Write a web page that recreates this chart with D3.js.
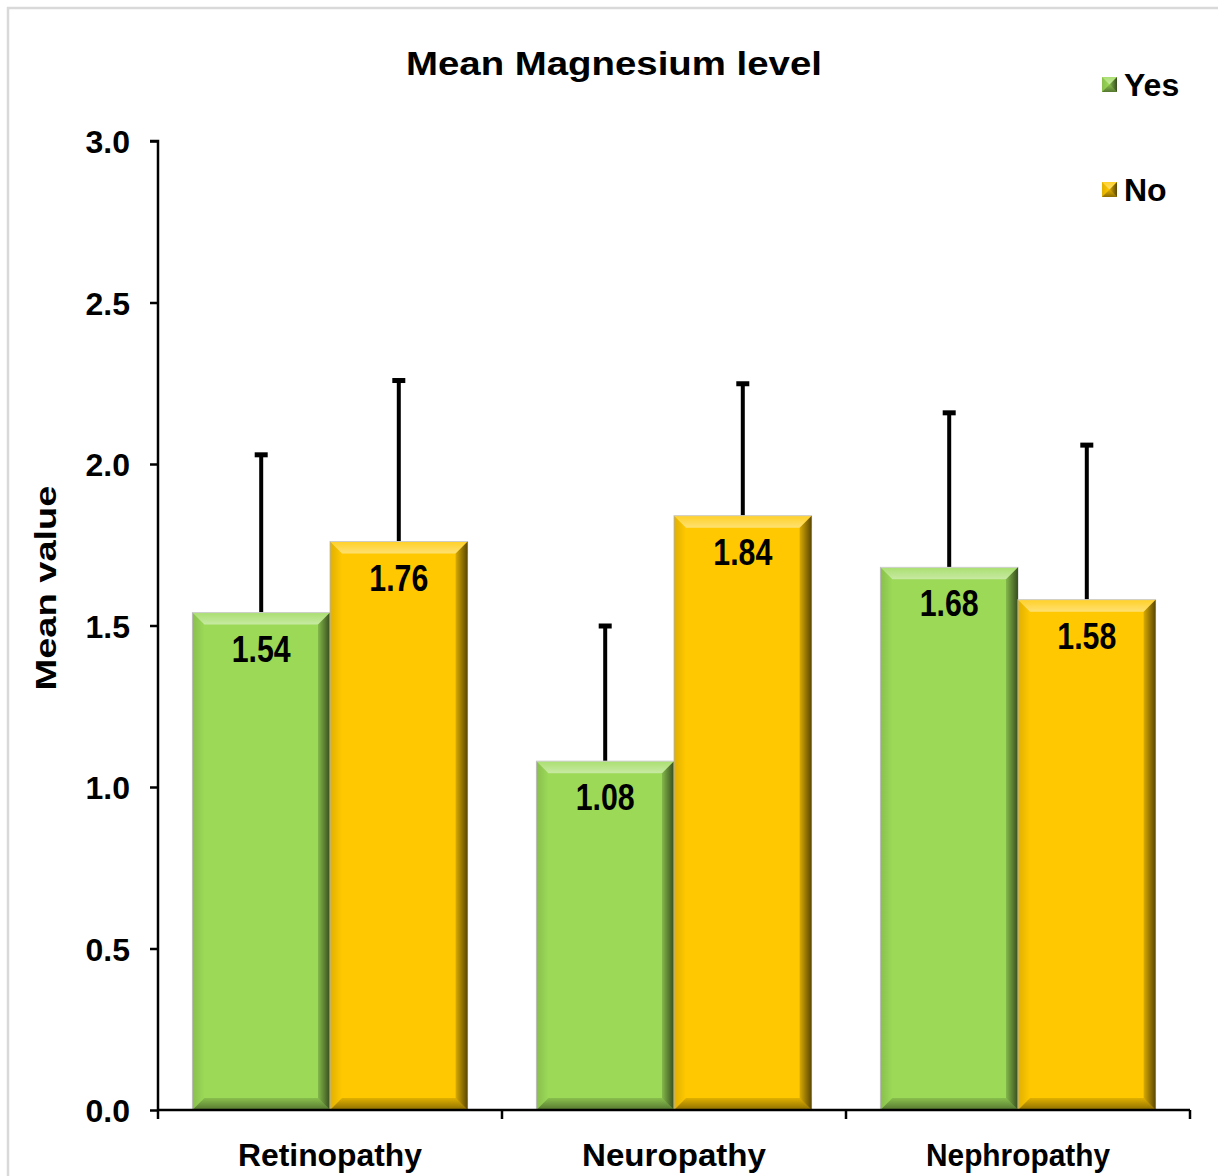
<!DOCTYPE html>
<html>
<head>
<meta charset="utf-8">
<script src="https://cdn.jsdelivr.net/npm/d3@7"></script>
<style>
  body { margin: 0; background: #fff; }
  text { font-family: "Liberation Sans", Arial, sans-serif; font-weight: bold; fill: #000; }
  .axis path, .axis line { stroke: #000; stroke-width: 2.5; }
  .valueLabel { font-family: "Liberation Sans Narrow", "Arial Narrow", "Liberation Sans", sans-serif; }
</style>
</head>
<body>
<div id="chart"></div>
<script>
// chart data
var categories = ["Retinopathy", "Neuropathy", "Nephropathy"];
var seriesNames = ["Yes", "No"];
var yesValues = [1.54, 1.08, 1.68];
var noValues = [1.76, 1.84, 1.58];
var yesSD = [0.49, 0.42, 0.48];
var noSD = [0.50, 0.41, 0.48];
var yTicks = [0, 0.5, 1.0, 1.5, 2.0, 2.5, 3.0];

var seriesColors = { Yes: "#9bd957", No: "#ffc800" };

// svg area
var svgWidth = 1218;
var svgHeight = 1176;
var plot = { left: 158, right: 1190, top: 141, bottom: 1110 };

var svg = d3.select("#chart").append("svg")
    .attr("width", svgWidth)
    .attr("height", svgHeight);

// gradients for the bevel edges
var defs = svg.append("defs");
function shadeGradient(id, x1, y1, x2, y2, color, o1, o2) {
    var g = defs.append("linearGradient").attr("id", id)
        .attr("x1", x1).attr("y1", y1).attr("x2", x2).attr("y2", y2);
    g.append("stop").attr("offset", "0%").attr("stop-color", color).attr("stop-opacity", o1);
    g.append("stop").attr("offset", "100%").attr("stop-color", color).attr("stop-opacity", o2);
}
shadeGradient("bevTop", 0, 0, 0, 1, "#fff", 0.15, 0.45);
shadeGradient("bevLeft", 0, 0, 1, 0, "#000", 0.12, 0.0);
shadeGradient("bevRight", 0, 0, 1, 0, "#000", 0.15, 0.65);
shadeGradient("bevBottom", 0, 0, 0, 1, "#000", 0.12, 0.45);

// outer frame
svg.append("rect")
    .attr("x", 8).attr("y", 8)
    .attr("width", 1230).attr("height", 1200)
    .attr("fill", "none")
    .attr("stroke", "#d9d9d9")
    .attr("stroke-width", 2.5);

// scales
var x0 = d3.scaleBand()
    .domain(categories)
    .range([plot.left, plot.right])
    .paddingInner(0.2)
    .paddingOuter(0.1);

var x1 = d3.scaleBand()
    .domain(seriesNames)
    .range([0, x0.bandwidth()]);

var yScale = d3.scaleLinear()
    .domain([0, 3])
    .range([plot.bottom, plot.top]);

// rows of data for the bars
var rows = [];
categories.forEach(function (cat, i) {
    rows.push({ cat: cat, series: "Yes", value: yesValues[i], sd: yesSD[i] });
    rows.push({ cat: cat, series: "No", value: noValues[i], sd: noSD[i] });
});

// bevel shapes for a rect
function bevelPolys(x, y, w, h, b) {
    b = Math.min(b, w / 2, h / 2);
    return {
        top: [[x, y], [x + w, y], [x + w - b, y + b], [x + b, y + b]],
        left: [[x, y], [x + b, y + b], [x + b, y + h - b], [x, y + h]],
        right: [[x + w, y], [x + w, y + h], [x + w - b, y + h - b], [x + w - b, y + b]],
        bottom: [[x, y + h], [x + b, y + h - b], [x + w - b, y + h - b], [x + w, y + h]]
    };
}
function pts(p) { return p.map(function (d) { return d.join(","); }).join(" "); }
function drawBevel(g, x, y, w, h, b) {
    var p = bevelPolys(x, y, w, h, b);
    g.append("polygon").attr("points", pts(p.top)).attr("fill", "url(#bevTop)");
    g.append("polygon").attr("points", pts(p.left)).attr("fill", "url(#bevLeft)");
    g.append("polygon").attr("points", pts(p.right)).attr("fill", "url(#bevRight)");
    g.append("polygon").attr("points", pts(p.bottom)).attr("fill", "url(#bevBottom)");
}

// error bars (drawn first, bars sit on top)
var errGroup = svg.append("g");
rows.forEach(function (d) {
    var cx = x0(d.cat) + x1(d.series) + x1.bandwidth() / 2;
    errGroup.append("line")
        .attr("x1", cx).attr("x2", cx)
        .attr("y1", yScale(d.value))
        .attr("y2", yScale(d.value + d.sd))
        .attr("stroke", "#000")
        .attr("stroke-width", 4);
    errGroup.append("rect")
        .attr("x", cx - 6.5)
        .attr("y", yScale(d.value + d.sd) - 2)
        .attr("width", 13).attr("height", 5)
        .attr("fill", "#000");
});

// bars with bevel
var barGroup = svg.append("g");
rows.forEach(function (d) {
    var bx = x0(d.cat) + x1(d.series);
    var by = yScale(d.value);
    var bw = x1.bandwidth();
    var bh = yScale(0) - by;
    var g = barGroup.append("g");
    g.append("rect")
        .attr("x", bx).attr("y", by)
        .attr("width", bw).attr("height", bh)
        .attr("fill", seriesColors[d.series])
        .attr("stroke", "#c8c8c8")
        .attr("stroke-width", 1);
    drawBevel(g, bx, by, bw, bh, 12);

    // value label
    g.append("text")
        .attr("class", "valueLabel")
        .attr("x", bx + bw / 2)
        .attr("y", by + 49)
        .attr("text-anchor", "middle")
        .attr("font-size", 37)
        .attr("textLength", 59)
        .attr("lengthAdjust", "spacingAndGlyphs")
        .text(d.value.toFixed(2));
});

// y axis
var yAxis = d3.axisLeft(yScale)
    .tickValues(yTicks)
    .tickSize(8)
    .tickPadding(20)
    .tickFormat(d3.format(".1f"));

var yAxisG = svg.append("g")
    .attr("class", "axis")
    .attr("transform", `translate(${plot.left},0)`)
    .call(yAxis);
yAxisG.select(".domain").attr("d", `M-8,${plot.top}H0V${plot.bottom}`);
yAxisG.selectAll("text").attr("font-size", 32).attr("dy", "0.36em");

// x axis: line with ticks at category boundaries
var xAxisG = svg.append("g").attr("class", "axis");
xAxisG.append("line")
    .attr("x1", plot.left).attr("x2", plot.right)
    .attr("y1", plot.bottom).attr("y2", plot.bottom);
var step = x0.step();
var bounds = d3.range(categories.length + 1).map(function (i) {
    return x0(categories[0]) - x0.paddingOuter() * step + i * step;
});
xAxisG.selectAll(".bt").data(bounds).enter().append("line")
    .attr("x1", function (d) { return d; })
    .attr("x2", function (d) { return d; })
    .attr("y1", plot.bottom)
    .attr("y2", plot.bottom + 9);

// category labels
svg.append("g").selectAll("text").data(categories).enter().append("text")
    .attr("x", function (d) { return x0(d) + x0.bandwidth() / 2; })
    .attr("y", plot.bottom + 56)
    .attr("text-anchor", "middle")
    .attr("font-size", 31)
    .attr("textLength", 184)
    .attr("lengthAdjust", "spacingAndGlyphs")
    .text(function (d) { return d; });

// title
svg.append("text")
    .attr("x", 614)
    .attr("y", 75)
    .attr("text-anchor", "middle")
    .attr("font-size", 34)
    .attr("textLength", 416)
    .attr("lengthAdjust", "spacingAndGlyphs")
    .text("Mean Magnesium level");

// y axis label
svg.append("text")
    .attr("transform", "translate(56,588) rotate(-90)")
    .attr("text-anchor", "middle")
    .attr("font-size", 29)
    .attr("textLength", 205)
    .attr("lengthAdjust", "spacingAndGlyphs")
    .text("Mean value");

// legend
var legend = svg.append("g");
var legendY = [84, 189];
seriesNames.forEach(function (s, i) {
    var ly = legendY[i];
    var lx = 1102;
    legend.append("rect")
        .attr("x", lx).attr("y", ly - 7)
        .attr("width", 15).attr("height", 15)
        .attr("fill", seriesColors[s]);
    drawBevel(legend, lx, ly - 7, 15, 15, 7.5);
    legend.append("text")
        .attr("x", 1124)
        .attr("y", ly + 12)
        .attr("font-size", 32)
        .text(s);
});
</script>
</body>
</html>
